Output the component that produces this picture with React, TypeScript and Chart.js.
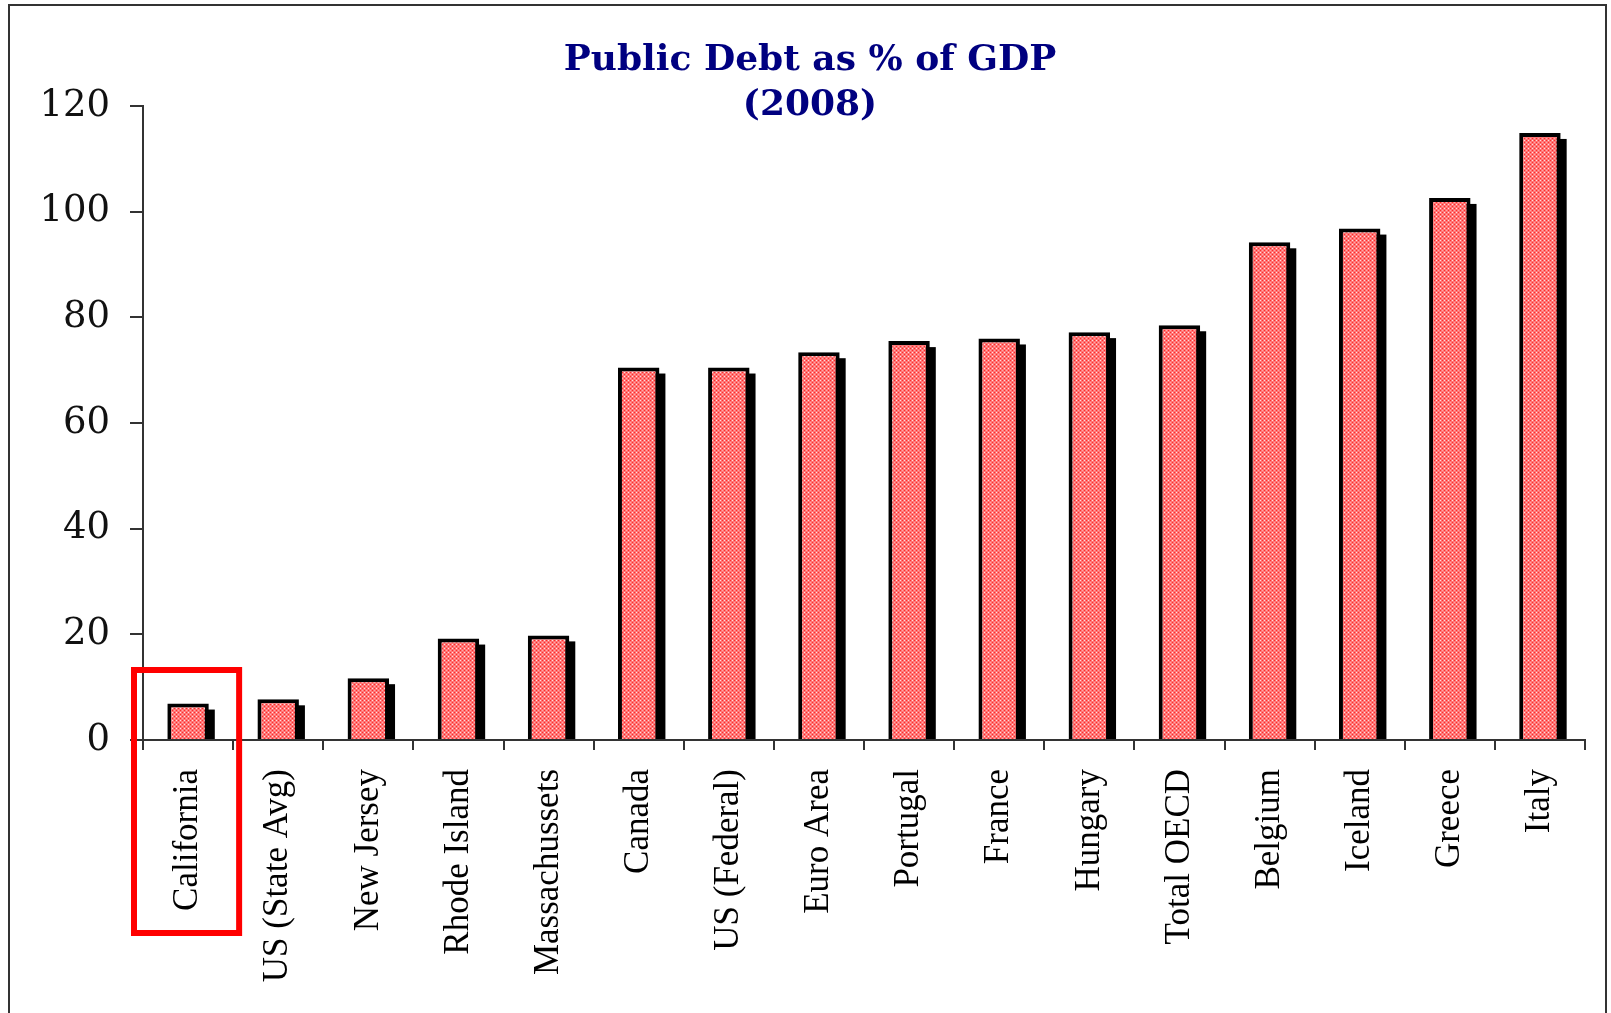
import React, { useEffect, useRef } from 'react';
import { Chart, registerables } from 'chart.js';

Chart.register(...registerables);

const categories = [
  'California',
  'US (State Avg)',
  'New Jersey',
  'Rhode Island',
  'Massachussets',
  'Canada',
  'US (Federal)',
  'Euro Area',
  'Portugal',
  'France',
  'Hungary',
  'Total OECD',
  'Belgium',
  'Iceland',
  'Greece',
  'Italy',
];
const debtPct = [6.9, 7.7, 11.7, 19.2, 19.8, 70.5, 70.5, 73.4, 75.5, 76.0, 77.2, 78.5, 94.2, 96.8, 102.6, 114.9];
const yMin = 0;
const yMax = 120;
const yStep = 20;
const titleLines = ['Public Debt as % of GDP', '(2008)'];
const highlightIndex = 0;

const W = 1611;
const H = 1013;

function makePattern(): CanvasPattern | string {
  const c = document.createElement('canvas');
  c.width = 4;
  c.height = 4;
  const g = c.getContext('2d');
  if (!g) return '#ff8080';
  g.fillStyle = '#ff7676';
  g.fillRect(0, 0, 4, 4);
  g.fillStyle = '#ffe0e0';
  g.fillRect(0, 0, 1, 1);
  g.fillStyle = '#ffaaaa';
  g.fillRect(2, 2, 1, 1);
  g.fillStyle = '#ff2a2a';
  g.fillRect(2, 0, 1, 1);
  g.fillRect(0, 2, 1, 1);
  const p = g.createPattern(c, 'repeat');
  return p || '#ff8080';
}

const shadowPlugin = {
  id: 'barShadow',
  beforeDatasetsDraw(chart: any) {
    const ctx = chart.ctx;
    const meta = chart.getDatasetMeta(0);
    ctx.save();
    ctx.fillStyle = '#000';
    meta.data.forEach((bar: any) => {
      const { x, y, base, width } = bar.getProps(['x', 'y', 'base', 'width'], true);
      const off = 6;
      ctx.fillRect(x - width / 2 + off, y + off, width, base - y - off);
    });
    ctx.restore();
  },
};

const titlePlugin = {
  id: 'twoLineTitle',
  afterDraw(chart: any) {
    const ctx = chart.ctx;
    ctx.save();
    ctx.fillStyle = '#000080';
    ctx.textAlign = 'center';
    ctx.textBaseline = 'alphabetic';
    ctx.font = 'bold 36px "DejaVu Serif"';
    const cx = 810;
    ctx.fillText(titleLines[0], cx, 70);
    ctx.fillText(titleLines[1], cx, 115);
    ctx.restore();
  },
};

const highlightPlugin = {
  id: 'highlightBox',
  afterDraw(chart: any) {
    const ctx = chart.ctx;
    const xs = chart.scales.x;
    const ys = chart.scales.y;
    const cx = xs.getPixelForValue(highlightIndex);
    const half = (xs.getPixelForValue(1) - xs.getPixelForValue(0)) / 2;
    const base = ys.getPixelForValue(0);
    const left = cx - half - 9;
    const right = cx + half + 6;
    const top = base - 70;
    const bottom = base + 193;
    ctx.save();
    ctx.strokeStyle = '#ff0000';
    ctx.lineWidth = 6;
    ctx.strokeRect(left, top, right - left, bottom - top);
    ctx.restore();
  },
};

export default function App() {
  const ref = useRef<HTMLCanvasElement | null>(null);

  useEffect(() => {
    const canvas = ref.current;
    if (!canvas) return;
    const chart = new Chart(canvas, {
      type: 'bar',
      data: {
        labels: categories,
        datasets: [
          {
            data: debtPct,
            backgroundColor: makePattern() as any,
            borderColor: '#000',
            borderWidth: 4,
            borderSkipped: 'bottom',
            categoryPercentage: 1,
            barPercentage: 0.46,
          },
        ],
      },
      options: {
        animation: false,
        responsive: false,
        devicePixelRatio: 1,
        layout: { padding: { top: 106, right: 26, left: 0, bottom: 0 } },
        plugins: {
          legend: { display: false },
          tooltip: { enabled: false },
          title: { display: false },
        },
        scales: {
          x: {
            offset: true,
            grid: {
              display: true,
              drawOnChartArea: false,
              drawTicks: true,
              tickLength: 10,
              color: '#333',
              lineWidth: 2,
              offset: true,
            },
            border: { display: true, color: '#333', width: 2 },
            ticks: {
              minRotation: 90,
              maxRotation: 90,
              autoSkip: false,
              padding: 19,
              color: '#000',
              font: { family: '"Liberation Serif"', size: 35 },
            },
            afterFit: (s: any) => {
              s.height = 273;
            },
          },
          y: {
            min: yMin,
            max: yMax,
            ticks: {
              stepSize: yStep,
              padding: 20,
              color: '#111',
              font: { family: '"DejaVu Serif"', size: 37 },
            },
            grid: {
              drawOnChartArea: false,
              drawTicks: true,
              tickLength: 13,
              color: '#333',
              lineWidth: 2,
            },
            border: { display: true, color: '#333', width: 2 },
            afterFit: (s: any) => {
              s.width = 143;
            },
          },
        },
      },
      plugins: [shadowPlugin, titlePlugin, highlightPlugin],
    });
    return () => chart.destroy();
  }, []);

  return (
    <div
      style={{
        position: 'fixed',
        left: 0,
        top: 0,
        width: W,
        height: H,
        overflow: 'hidden',
        background: '#fff',
      }}
    >
      <div
        style={{
          position: 'absolute',
          left: 8,
          top: 4,
          width: 1599,
          height: H + 20,
          border: '2px solid #333',
          boxSizing: 'border-box',
        }}
      />
      <canvas
        ref={ref}
        width={W}
        height={H}
        style={{ position: 'absolute', left: 0, top: 0, width: W, height: H }}
      />
    </div>
  );
}
